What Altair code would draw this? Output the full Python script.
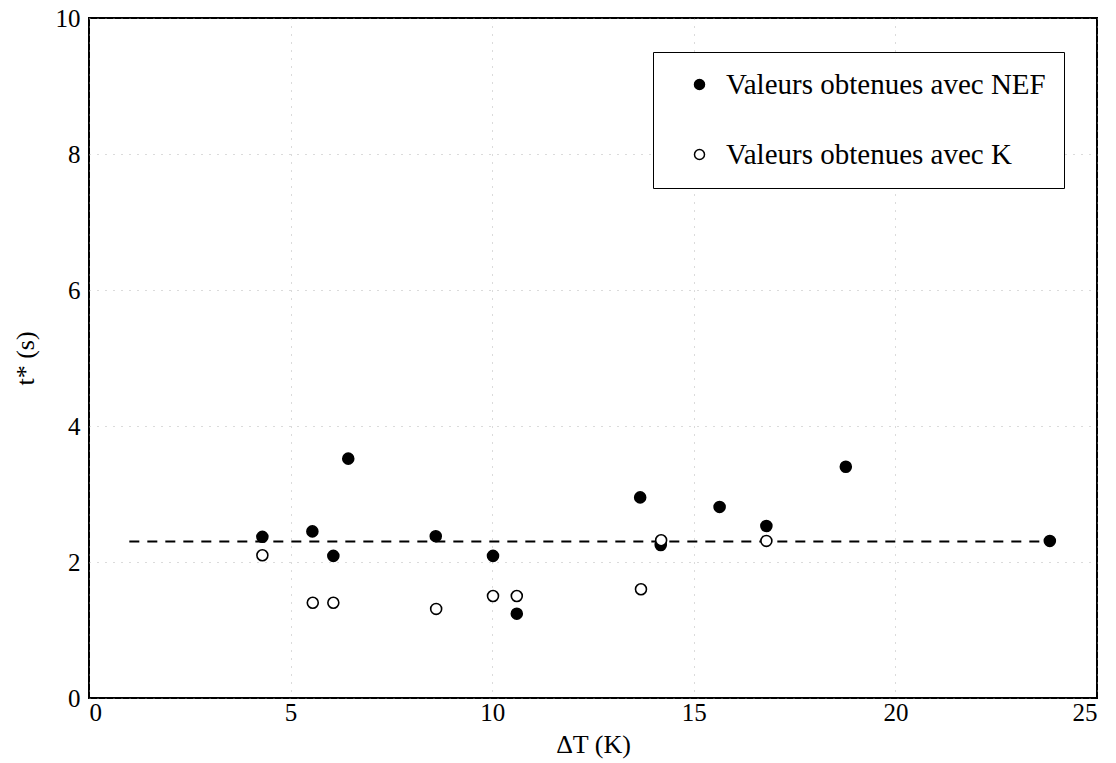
import altair as alt
import pandas as pd

# Filled points (NEF)
nef_x = [4.30, 5.54, 6.06, 6.43, 8.60, 10.02, 10.61, 13.67, 14.18, 15.64, 16.80, 18.77, 23.83]
nef_y = [2.37, 2.45, 2.09, 3.52, 2.38, 2.09, 1.24, 2.95, 2.25, 2.81, 2.53, 3.40, 2.31]
# Open points (K)
k_x = [4.30, 5.55, 6.06, 8.61, 10.02, 10.61, 13.69, 14.19, 16.80]
k_y = [2.10, 1.40, 1.40, 1.31, 1.50, 1.50, 1.60, 2.32, 2.31]
# Dashed mean line
line_x = [1.0, 23.8]
line_y = [2.3, 2.3]

series_names = ["Valeurs obtenues avec NEF", "Valeurs obtenues avec K"]

pts = pd.DataFrame({
    "x": nef_x + k_x,
    "y": nef_y + k_y,
    "serie": [series_names[0]] * len(nef_x) + [series_names[1]] * len(k_x),
})
line_df = pd.DataFrame({"x": line_x, "y": line_y})

FONT = "Liberation Serif"

xs = alt.Scale(domain=[0, 25], nice=False, zero=False)
ys = alt.Scale(domain=[0, 10], nice=False, zero=False)

points = alt.Chart(pts).mark_point(filled=False, size=120, strokeWidth=1.6, opacity=1).encode(
    x=alt.X("x:Q", scale=xs, title="ΔT (K)",
            axis=alt.Axis(values=[0, 5, 10, 15, 20, 25], format="d")),
    y=alt.Y("y:Q", scale=ys, title="t* (s)",
            axis=alt.Axis(values=[0, 2, 4, 6, 8, 10], format="d")),
    fill=alt.Fill("serie:N", scale=alt.Scale(domain=series_names, range=["black", "white"]),
                  legend=alt.Legend(title=None, orient="none", legendX=564, legendY=34,
                                    symbolType="circle", symbolSize=100, symbolStrokeColor="black",
                                    symbolStrokeWidth=1.5, symbolOffset=14,
                                    labelFont=FONT, labelFontSize=29, labelColor="black",
                                    labelLimit=0,
                                    rowPadding=40, padding=18, labelOffset=12,
                                    strokeColor="black", fillColor="white")),
    stroke=alt.value("black"),
)

line = alt.Chart(line_df).mark_line(color="black", strokeWidth=2, strokeDash=[10, 8]).encode(
    x=alt.X("x:Q", scale=xs),
    y=alt.Y("y:Q", scale=ys),
)

chart = alt.layer(line, points).properties(
    width=1008, height=680,
    autosize=alt.AutoSizeParams(type="none"),
    padding={"left": 81, "top": 10, "right": 10, "bottom": 70},
).configure_view(
    stroke="black", strokeWidth=2
).configure_axis(
    labelFont=FONT, titleFont=FONT, labelFontSize=25, titleFontSize=26,
    labelColor="black", titleColor="black", titleFontWeight="normal",
    ticks=False, domain=False,
    gridColor="#999999", gridDash=[1, 7], gridWidth=1, gridOpacity=0.7,
).configure_axisX(
    labelPadding=2, titlePadding=6,
).configure_axisY(
    labelPadding=9, titlePadding=17,
)

chart.save("out.html", embed_options={"renderer": "svg", "actions": False})
